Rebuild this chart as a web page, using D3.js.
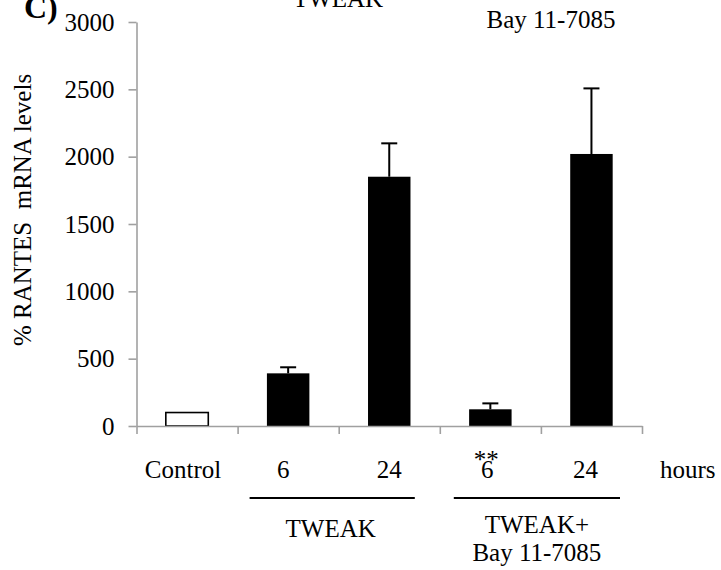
<!DOCTYPE html>
<html>
<head>
<meta charset="utf-8">
<script src="https://cdn.jsdelivr.net/npm/d3@7"></script>
<style>
  html, body { margin: 0; padding: 0; background: #fff; }
  svg { display: block; }
  svg text { font-family: "Liberation Serif", "DejaVu Serif", serif !important; fill: #000; }
</style>
</head>
<body>
<svg id="chart" width="721" height="570"></svg>
<script>
// ---- data ----
const categories = ["Control", "TWEAK 6", "TWEAK 24", "Bay 6", "Bay 24"];
const xLabels = ["Control", "6", "24", "6", "24"];
const values = [100, 391, 1851, 124, 2020];
const errors = [0, 45, 248, 44, 487];
const yTicks = [0, 500, 1000, 1500, 2000, 2500, 3000];
const groupLabels = [["TWEAK"], ["TWEAK+", "Bay 11-7085"]];
const topLabels = ["TWEAK", "Bay 11-7085"];

// ---- layout ----
const SERIF = '"Liberation Serif", "DejaVu Serif", serif';
const svg = d3.select("#chart");
const x0 = 136.5, x1 = 642, yTop = 22, yBot = 426;
const fs = 25;

const y = d3.scaleLinear().domain([0, 3000]).range([yBot, yTop]);
const x = d3.scaleBand().domain(categories).range([x0, x1]).paddingInner(0.58).paddingOuter(0.29);
const xEdge = d3.scaleLinear().domain([0, categories.length]).range([x0, x1]);
const cx = c => x(c) + x.bandwidth() / 2;

function txt(sel) { return sel.style("font-family", SERIF).attr("font-size", fs); }

// bars
svg.append("g").selectAll("rect").data(categories).join("rect")
  .attr("x", d => x(d))
  .attr("y", (d, i) => y(values[i]))
  .attr("width", x.bandwidth())
  .attr("height", (d, i) => y(0) - y(values[i]))
  .attr("fill", (d, i) => i === 0 ? "#fff" : "#000")
  .attr("stroke", "#000")
  .attr("stroke-width", (d, i) => i === 0 ? 1.6 : 0);

// error bars (upper only)
const eg = svg.append("g").attr("stroke", "#000").attr("stroke-width", 2);
categories.forEach((c, i) => {
  if (!errors[i]) return;
  eg.append("line").attr("x1", cx(c)).attr("x2", cx(c))
    .attr("y1", y(values[i])).attr("y2", y(values[i] + errors[i]));
  eg.append("line").attr("x1", cx(c) - 8).attr("x2", cx(c) + 8)
    .attr("y1", y(values[i] + errors[i])).attr("y2", y(values[i] + errors[i]));
});

// y axis
const yAxis = svg.append("g").attr("transform", `translate(${x0},0)`)
  .call(d3.axisLeft(y).tickValues(yTicks).tickSize(8).tickSizeOuter(0).tickPadding(14).tickFormat(d3.format("d")));
yAxis.attr("font-family", null).attr("font-size", null);
yAxis.selectAll("path, line").attr("stroke", "#a0a0a0").attr("stroke-width", 1.6);
txt(yAxis.selectAll("text")).attr("fill", "#000");

// x axis (category boundary ticks)
const xAxis = svg.append("g").attr("transform", `translate(0,${yBot})`)
  .call(d3.axisBottom(xEdge).ticks(categories.length).tickSize(8).tickSizeOuter(0).tickFormat(""));
xAxis.selectAll("path, line").attr("stroke", "#a0a0a0").attr("stroke-width", 1.6);

// category labels
const labelOffsets = [-4, -5, 0, -3, -6];
txt(svg.append("g").selectAll("text").data(categories).join("text"))
  .attr("x", (d, i) => cx(d) + labelOffsets[i])
  .attr("y", 478)
  .attr("text-anchor", "middle")
  .text((d, i) => xLabels[i]);

txt(svg.append("text")).attr("x", cx("Bay 6") - 4).attr("y", 468)
  .attr("text-anchor", "middle").text("**");

txt(svg.append("text")).attr("x", xEdge(5) + 18).attr("y", 478).text("hours");

// group underlines
const gl = svg.append("g").attr("stroke", "#000").attr("stroke-width", 2);
gl.append("line").attr("x1", xEdge(1) + 12).attr("x2", xEdge(3) - 25).attr("y1", 498).attr("y2", 498);
gl.append("line").attr("x1", xEdge(3) + 14).attr("x2", xEdge(5) - 22).attr("y1", 498).attr("y2", 498);

txt(svg.append("text")).attr("x", (xEdge(1) + xEdge(3)) / 2 - 8).attr("y", 537)
  .attr("text-anchor", "middle").text(groupLabels[0][0]);
txt(svg.append("text")).attr("x", (xEdge(3) + xEdge(5)) / 2 - 4).attr("y", 533)
  .attr("text-anchor", "middle").text(groupLabels[1][0]);
txt(svg.append("text")).attr("x", (xEdge(3) + xEdge(5)) / 2 - 4).attr("y", 561)
  .attr("text-anchor", "middle").text(groupLabels[1][1]);

// top labels
txt(svg.append("text")).attr("x", 338).attr("y", 7)
  .attr("text-anchor", "middle").text(topLabels[0]);
txt(svg.append("text")).attr("x", 551).attr("y", 28)
  .attr("text-anchor", "middle").text(topLabels[1]);

// panel letter
svg.append("text").attr("x", 24).attr("y", 18)
  .style("font-family", SERIF)
  .attr("font-size", 32).attr("font-weight", "bold").text("C)");

// y axis title
txt(svg.append("text"))
  .attr("transform", "translate(31,210) rotate(-90)")
  .attr("text-anchor", "middle")
  .style("white-space", "pre")
  .text("% RANTES  mRNA levels");
</script>
</body>
</html>
